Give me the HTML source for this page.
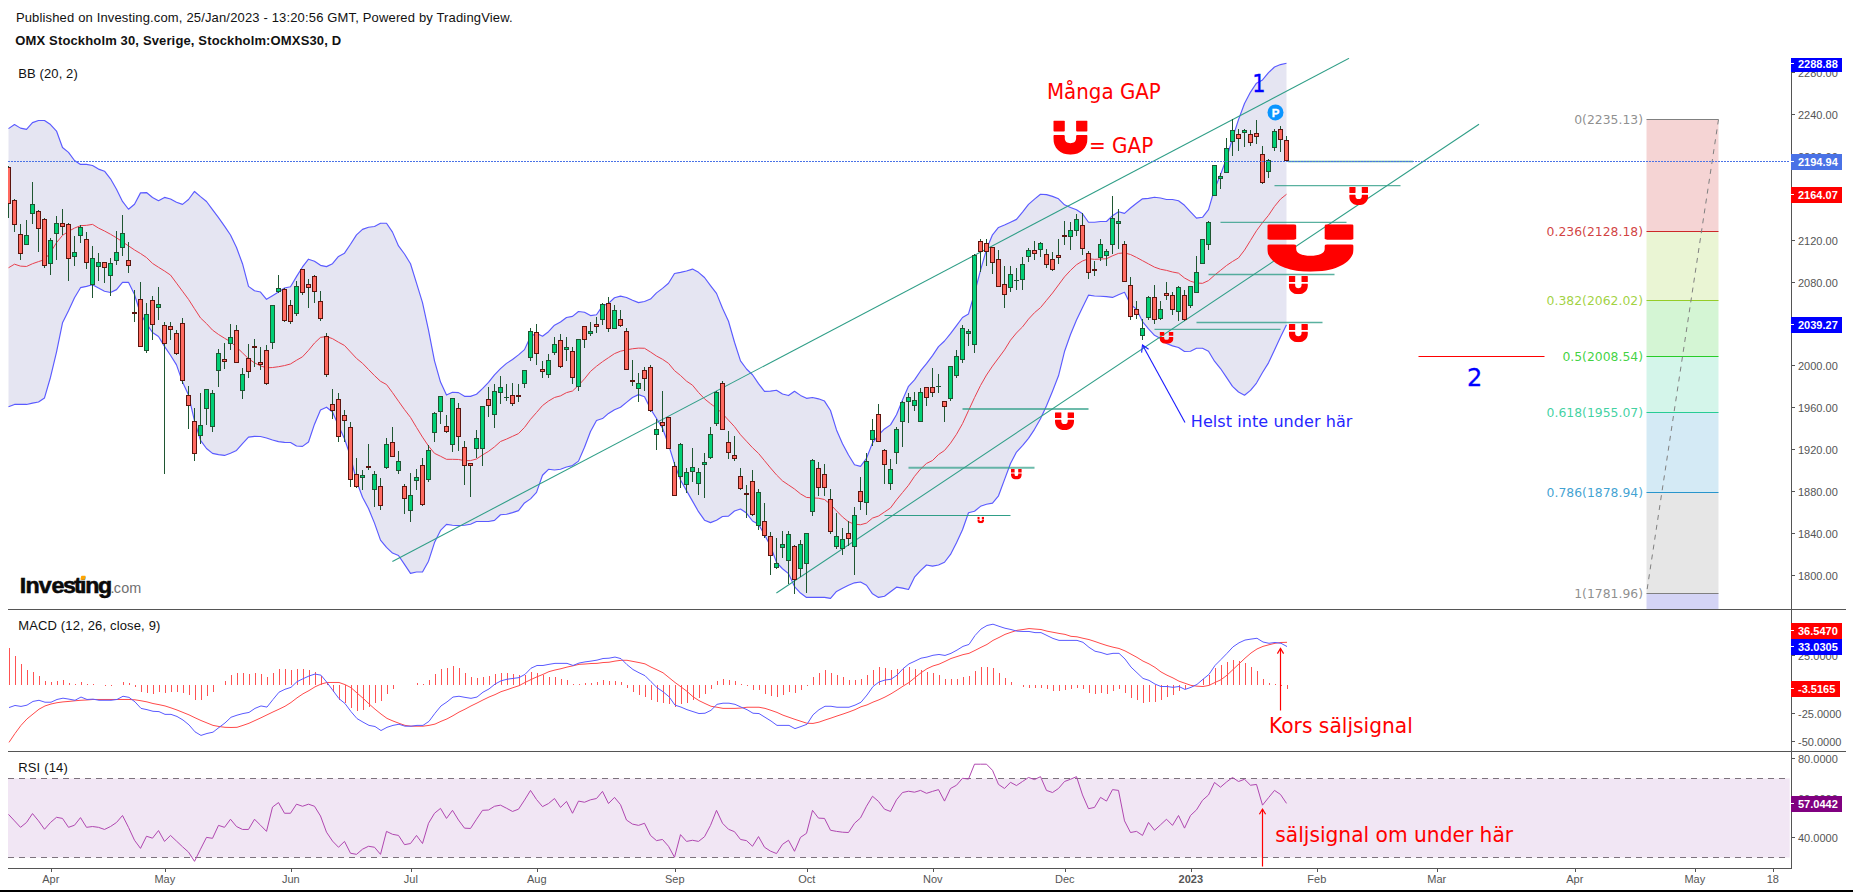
<!DOCTYPE html>
<html lang="sv"><head><meta charset="utf-8"><title>OMX Stockholm 30</title>
<style>html,body{margin:0;padding:0;background:#fff}body{width:1853px;height:892px;overflow:hidden}svg{display:block}text{white-space:pre}.a{font-family:'Liberation Sans',Arial,Helvetica,sans-serif;font-size:11px;fill:#555}.b{font-family:'Liberation Sans',Arial,Helvetica,sans-serif;font-size:11px;font-weight:bold;fill:#fff}.h{font-family:'Liberation Sans',Arial,Helvetica,sans-serif;font-size:13px;fill:#111}.v{font-family:'DejaVu Sans',Verdana,sans-serif}</style></head><body>
<svg width="1853" height="892" viewBox="0 0 1853 892">
<defs>
<clipPath id="cm"><rect x="8" y="58" width="1783" height="551"/></clipPath>
<clipPath id="cd"><rect x="8" y="610" width="1783" height="141"/></clipPath>
<clipPath id="cr"><rect x="8" y="752" width="1783" height="116"/></clipPath>
<symbol id="mg" viewBox="0 0 100 100" preserveAspectRatio="none"><rect x="0" y="0" width="33.5" height="32.5" rx="3" ry="3"/><rect x="66.5" y="0" width="33.5" height="32.5" rx="3" ry="3"/><path d="M3 42.5H30.5Q33.5 42.5 33.5 45.5V52C33.5 61 40 66.5 50 66.5C60 66.5 66.5 61 66.5 52V45.5Q66.5 42.5 69.5 42.5H97Q100 42.5 100 45.5V52C100 80 80 100 50 100C20 100 0 80 0 52V45.5Q0 42.5 3 42.5Z"/></symbol>
</defs>
<rect width="1853" height="892" fill="#fff"/>
<text class="h" x="15.9" y="22" textLength="496.7" lengthAdjust="spacing">Published on Investing.com, 25/Jan/2023 - 13:20:56 GMT, Powered by TradingView.</text>
<text class="h" x="15.3" y="45" font-weight="bold" fill="#000" textLength="325.8" lengthAdjust="spacing">OMX Stockholm 30, Sverige, Stockholm:OMXS30, D</text>
<text class="h" x="18.2" y="78" textLength="59.6" lengthAdjust="spacing">BB (20, 2)</text>
<g clip-path="url(#cm)">
<polygon points="8.5,128.62 14.5,124.57 20.5,128.13 26.5,129.43 32.5,122.63 38.5,120.52 44.5,120.52 50.5,124.57 56.5,131.05 62.5,147.56 68.5,152.42 74.5,160.51 80.5,164.4 86.5,164.4 92.5,165.53 98.5,169.09 104.5,171.2 110.5,178.81 116.5,189.33 122.5,201.47 128.5,209.24 134.5,204.23 140.5,192.89 146.5,192.57 152.5,197.43 158.5,200.66 164.5,197.43 170.5,199.04 176.5,202.28 182.5,204.39 188.5,199.53 194.5,191.44 200.5,196.62 206.5,201.47 212.5,209.57 218.5,217.66 224.5,226.12 230.5,235.02 236.5,247.56 242.5,263.71 248.5,286.38 254.5,290.75 260.5,292.05 266.5,299.33 272.5,295.77 278.5,292.05 284.5,288 290.5,286.7 296.5,276.66 302.5,266.95 308.5,259.18 314.5,261.28 320.5,265.33 326.5,266.63 332.5,263.71 338.5,256.43 344.5,253.19 350.5,244.28 356.5,234.89 362.5,229.39 368.5,227.29 374.5,226.48 380.5,223.24 386.5,223.24 392.5,232.14 398.5,245.9 404.5,254 410.5,263.71 416.5,283.14 422.5,302.57 428.5,330.09 434.5,360.85 440.5,382.09 446.5,395.05 452.5,392.29 458.5,392.62 464.5,396.34 470.5,396.34 476.5,394.24 482.5,388.57 488.5,382.42 494.5,374.81 500.5,368.66 506.5,363.38 512.5,359.49 518.5,354.88 524.5,349.62 530.5,336.57 536.5,333.33 542.5,336.24 548.5,331.71 554.5,325.23 560.5,322 566.5,317.46 572.5,316.33 578.5,311.47 584.5,312.28 590.5,315.57 596.5,314.76 602.5,305.86 608.5,303.43 614.5,297.76 620.5,296.14 626.5,297.44 632.5,300.19 638.5,302.62 644.5,301.48 650.5,299.06 656.5,292.9 662.5,288.37 668.5,283.19 674.5,273.48 680.5,272.34 686.5,271.05 692.5,269.1 698.5,272.34 704.5,277.52 710.5,285.62 716.5,293.39 722.5,308.28 728.5,321.24 734.5,342.28 740.5,360.9 746.5,369 752.5,374.76 758.5,383.66 764.5,391.36 770.5,391.19 776.5,390.23 782.5,393.94 788.5,395.56 794.5,391.27 800.5,395.4 806.5,398.33 812.5,397.52 818.5,398.82 824.5,401.08 830.5,410.47 836.5,429.9 842.5,443.66 848.5,455 854.5,464.71 860.5,466.33 866.5,458.24 872.5,442.85 878.5,435 884.5,428.93 890.5,424.88 896.5,414.76 902.5,400.09 908.5,386.33 914.5,379.85 920.5,370.95 926.5,363.66 932.5,355.57 938.5,346.66 944.5,341 950.5,333.71 956.5,325.62 962.5,317.52 968.5,313.96 974.5,293.04 980.5,270.38 986.5,249.33 992.5,234.76 998.5,227.47 1004.5,225.05 1010.5,222.29 1016.5,219.38 1022.5,212.09 1028.5,204.32 1034.5,199.14 1040.5,194.28 1046.5,194.61 1052.5,196.39 1058.5,198.82 1064.5,204.81 1070.5,207.56 1076.5,209.67 1082.5,213.71 1088.5,222.29 1094.5,222.29 1100.5,221.48 1106.5,221.48 1112.5,215.66 1118.5,211.77 1124.5,213.39 1130.5,208.05 1136.5,203.19 1142.5,198.82 1148.5,198.33 1154.5,197.2 1160.5,198.01 1166.5,199.47 1172.5,199.47 1178.5,200.76 1184.5,205.29 1190.5,211.77 1196.5,218.08 1202.5,217.27 1208.5,209.67 1214.5,189.23 1220.5,174.66 1226.5,158.47 1232.5,138.24 1238.5,119.62 1244.5,103.43 1250.5,92.09 1256.5,83.19 1262.5,79.95 1268.5,72.67 1274.5,67 1280.5,64.57 1286.5,63.28 1286.5,324.81 1280.5,336.95 1274.5,349.9 1268.5,362.85 1262.5,372.57 1256.5,383.09 1250.5,390.38 1244.5,395.23 1238.5,392 1232.5,386.33 1226.5,377.43 1220.5,368.52 1214.5,361.24 1208.5,351.2 1202.5,348.28 1196.5,348.28 1190.5,351.2 1184.5,351.52 1178.5,347.47 1172.5,345.86 1166.5,343.43 1160.5,338.57 1154.5,335.33 1148.5,328.86 1142.5,321.57 1136.5,309.23 1130.5,304.38 1124.5,292.23 1118.5,294.66 1112.5,297.42 1106.5,296.61 1100.5,296.28 1094.5,295.96 1088.5,295.15 1082.5,307.61 1076.5,319.95 1070.5,334.52 1064.5,351.52 1058.5,375.81 1052.5,391.19 1046.5,405.76 1040.5,418.8 1034.5,429.33 1028.5,438.33 1022.5,445.62 1016.5,452.09 1010.5,463.43 1004.5,479.62 998.5,495.81 992.5,503.09 986.5,504.23 980.5,506.33 974.5,511.19 968.5,512.81 962.5,529.81 956.5,542.76 950.5,554.47 944.5,562.25 938.5,565 932.5,566.13 926.5,565 920.5,570.66 914.5,577.14 908.5,589.44 902.5,588.15 896.5,587.18 890.5,591.71 884.5,596.24 878.5,597.38 872.5,593.85 866.5,585.27 860.5,582.03 854.5,582.84 848.5,585.27 842.5,588.19 836.5,591.42 830.5,598.39 824.5,597.42 818.5,597.42 812.5,597.42 806.5,597.42 800.5,593.04 794.5,586.57 788.5,573.62 782.5,568.76 776.5,562.28 770.5,546.09 764.5,534.76 758.5,524.24 752.5,521 746.5,513.09 740.5,509.05 734.5,511.06 728.5,516.14 722.5,516.47 716.5,520.19 710.5,522.62 704.5,520.19 698.5,511.66 692.5,501.14 686.5,490.62 680.5,480.09 674.5,463.9 668.5,444.47 662.5,428.28 656.5,418.57 650.5,408.86 644.5,396.71 638.5,394.61 632.5,397.52 626.5,402.38 620.5,407.24 614.5,409.67 608.5,413.39 602.5,418.57 596.5,420.51 590.5,431.52 584.5,447.28 578.5,461.12 572.5,465.57 566.5,466.94 560.5,469.21 554.5,470.02 548.5,469.29 542.5,475.28 536.5,492.38 530.5,498.86 524.5,502.9 518.5,510.67 512.5,512.62 506.5,514.24 500.5,514.72 494.5,520.39 488.5,521.52 482.5,521.52 476.5,521.52 470.5,524.27 464.5,525.25 458.5,525.57 452.5,525.25 446.5,524.44 440.5,530.43 434.5,542.57 428.5,561.19 422.5,572.03 416.5,572.03 410.5,573.33 404.5,564.43 398.5,555.52 392.5,553.09 386.5,547.43 380.5,540.14 374.5,523.14 368.5,508.57 362.5,497.24 356.5,480.95 350.5,456.57 344.5,438.76 338.5,425.81 332.5,412.05 326.5,407.19 320.5,410.1 314.5,424.19 308.5,442 302.5,446.37 296.5,446.04 290.5,442.48 284.5,442.32 278.5,441.67 272.5,440.05 266.5,437.95 260.5,436.49 254.5,436.33 248.5,437.14 242.5,443.62 236.5,450.42 230.5,453.33 224.5,455.43 218.5,454.62 212.5,453.33 206.5,448.47 200.5,440.38 194.5,420.95 188.5,395.05 182.5,382.09 176.5,364.91 170.5,355.28 164.5,346.38 158.5,336.57 152.5,332.52 146.5,323.62 140.5,313.9 134.5,294.47 128.5,282.33 122.5,282.33 116.5,289.62 110.5,292.53 104.5,291.24 98.5,288 92.5,284.76 86.5,286.38 80.5,287.67 74.5,297.71 68.5,310.66 62.5,322.81 56.5,352.04 50.5,377.24 44.5,397.96 38.5,402.01 32.5,403.14 26.5,404.44 20.5,404.44 14.5,404.44 8.5,406.7" fill="#e5e5f2"/>
<polyline points="8.5,267.76 14.5,264.2 20.5,266.14 26.5,266.47 32.5,263.71 38.5,261.61 44.5,259.67 50.5,252.38 56.5,242.67 62.5,235.38 68.5,231.33 74.5,228.09 80.5,225.67 86.5,225.34 92.5,224.37 98.5,228.09 104.5,231.01 110.5,234.25 116.5,237.81 122.5,241.86 128.5,245.9 134.5,249.95 140.5,253.51 146.5,257.56 152.5,263.39 158.5,267.27 164.5,271 170.5,275.05 176.5,283.14 182.5,291.24 188.5,299.33 194.5,308.72 200.5,317.95 206.5,323.62 212.5,330.09 218.5,334.46 224.5,338.19 230.5,341.75 236.5,347.09 242.5,352.86 248.5,358.76 254.5,362.81 260.5,365.9 266.5,367.85 272.5,367.52 278.5,366.71 284.5,365.58 290.5,363.96 296.5,360.24 302.5,356.81 308.5,350.33 314.5,343.04 320.5,337.38 326.5,336.57 332.5,338.67 338.5,342.23 344.5,345.47 350.5,351.95 356.5,358.42 362.5,363.28 368.5,369.47 374.5,375.62 380.5,381.28 386.5,384.52 392.5,392.62 398.5,401.2 404.5,409.62 410.5,417.39 416.5,427.43 422.5,437.14 428.5,446.04 434.5,453.33 440.5,456.24 446.5,459.32 452.5,459.32 458.5,459.48 464.5,460.62 470.5,460.62 476.5,459 482.5,454.95 488.5,451.39 494.5,446.85 500.5,441.51 506.5,439.08 512.5,436.33 518.5,433.58 524.5,427.43 530.5,419.33 536.5,412.53 542.5,405.57 548.5,401.04 554.5,397.47 560.5,395.86 566.5,392.62 572.5,391 578.5,385.33 584.5,378.86 590.5,371.42 596.5,366.24 602.5,361.71 608.5,357.66 614.5,353.62 620.5,351.19 626.5,349.89 632.5,348.76 638.5,348.11 644.5,348.27 650.5,352 656.5,356.04 662.5,359.28 668.5,363.33 674.5,370.62 680.5,375.47 686.5,381.14 692.5,385.19 698.5,392.47 704.5,398.82 710.5,403.68 716.5,408.05 722.5,413.71 728.5,420.19 734.5,426.66 740.5,434.76 746.5,441.24 752.5,447.71 758.5,453.38 764.5,460.66 770.5,467.95 776.5,474.91 782.5,480.9 788.5,484.95 794.5,489 800.5,493.85 806.5,497.42 812.5,497.9 818.5,498.22 824.5,499.52 830.5,504.38 836.5,510.85 842.5,516.95 848.5,521.81 854.5,524.24 860.5,524.72 866.5,523.1 872.5,518.08 878.5,516.04 884.5,512 890.5,507.95 896.5,499.85 902.5,492.57 908.5,485.28 914.5,476.38 920.5,469.09 926.5,463.43 932.5,460.51 938.5,454.52 944.5,450.47 950.5,443.19 956.5,434.28 962.5,423.66 968.5,410.62 974.5,397.66 980.5,385.52 986.5,375 992.5,366.09 998.5,358 1004.5,349.9 1010.5,340.19 1016.5,332.9 1022.5,326.91 1028.5,319.14 1034.5,312.67 1040.5,307.61 1046.5,300.33 1052.5,293.04 1058.5,284.95 1064.5,276.85 1070.5,270.38 1076.5,264.71 1082.5,260.99 1088.5,258.72 1094.5,259.37 1100.5,259.04 1106.5,258.72 1112.5,255.81 1118.5,253.38 1124.5,252.89 1130.5,254.51 1136.5,257.43 1142.5,260.66 1148.5,263.9 1154.5,267.14 1160.5,269.24 1166.5,270.38 1172.5,272 1178.5,273.13 1184.5,277.99 1190.5,281.23 1196.5,283.01 1202.5,283.33 1208.5,280.58 1214.5,275.23 1220.5,270.38 1226.5,265.52 1232.5,261.47 1238.5,257.91 1244.5,250.14 1250.5,240.43 1256.5,230.71 1262.5,222.62 1268.5,215.33 1274.5,206.43 1280.5,199.14 1286.5,194.28" fill="none" stroke="#e8404e" stroke-width="1" stroke-linejoin="round"/>
<polyline points="8.5,128.62 14.5,124.57 20.5,128.13 26.5,129.43 32.5,122.63 38.5,120.52 44.5,120.52 50.5,124.57 56.5,131.05 62.5,147.56 68.5,152.42 74.5,160.51 80.5,164.4 86.5,164.4 92.5,165.53 98.5,169.09 104.5,171.2 110.5,178.81 116.5,189.33 122.5,201.47 128.5,209.24 134.5,204.23 140.5,192.89 146.5,192.57 152.5,197.43 158.5,200.66 164.5,197.43 170.5,199.04 176.5,202.28 182.5,204.39 188.5,199.53 194.5,191.44 200.5,196.62 206.5,201.47 212.5,209.57 218.5,217.66 224.5,226.12 230.5,235.02 236.5,247.56 242.5,263.71 248.5,286.38 254.5,290.75 260.5,292.05 266.5,299.33 272.5,295.77 278.5,292.05 284.5,288 290.5,286.7 296.5,276.66 302.5,266.95 308.5,259.18 314.5,261.28 320.5,265.33 326.5,266.63 332.5,263.71 338.5,256.43 344.5,253.19 350.5,244.28 356.5,234.89 362.5,229.39 368.5,227.29 374.5,226.48 380.5,223.24 386.5,223.24 392.5,232.14 398.5,245.9 404.5,254 410.5,263.71 416.5,283.14 422.5,302.57 428.5,330.09 434.5,360.85 440.5,382.09 446.5,395.05 452.5,392.29 458.5,392.62 464.5,396.34 470.5,396.34 476.5,394.24 482.5,388.57 488.5,382.42 494.5,374.81 500.5,368.66 506.5,363.38 512.5,359.49 518.5,354.88 524.5,349.62 530.5,336.57 536.5,333.33 542.5,336.24 548.5,331.71 554.5,325.23 560.5,322 566.5,317.46 572.5,316.33 578.5,311.47 584.5,312.28 590.5,315.57 596.5,314.76 602.5,305.86 608.5,303.43 614.5,297.76 620.5,296.14 626.5,297.44 632.5,300.19 638.5,302.62 644.5,301.48 650.5,299.06 656.5,292.9 662.5,288.37 668.5,283.19 674.5,273.48 680.5,272.34 686.5,271.05 692.5,269.1 698.5,272.34 704.5,277.52 710.5,285.62 716.5,293.39 722.5,308.28 728.5,321.24 734.5,342.28 740.5,360.9 746.5,369 752.5,374.76 758.5,383.66 764.5,391.36 770.5,391.19 776.5,390.23 782.5,393.94 788.5,395.56 794.5,391.27 800.5,395.4 806.5,398.33 812.5,397.52 818.5,398.82 824.5,401.08 830.5,410.47 836.5,429.9 842.5,443.66 848.5,455 854.5,464.71 860.5,466.33 866.5,458.24 872.5,442.85 878.5,435 884.5,428.93 890.5,424.88 896.5,414.76 902.5,400.09 908.5,386.33 914.5,379.85 920.5,370.95 926.5,363.66 932.5,355.57 938.5,346.66 944.5,341 950.5,333.71 956.5,325.62 962.5,317.52 968.5,313.96 974.5,293.04 980.5,270.38 986.5,249.33 992.5,234.76 998.5,227.47 1004.5,225.05 1010.5,222.29 1016.5,219.38 1022.5,212.09 1028.5,204.32 1034.5,199.14 1040.5,194.28 1046.5,194.61 1052.5,196.39 1058.5,198.82 1064.5,204.81 1070.5,207.56 1076.5,209.67 1082.5,213.71 1088.5,222.29 1094.5,222.29 1100.5,221.48 1106.5,221.48 1112.5,215.66 1118.5,211.77 1124.5,213.39 1130.5,208.05 1136.5,203.19 1142.5,198.82 1148.5,198.33 1154.5,197.2 1160.5,198.01 1166.5,199.47 1172.5,199.47 1178.5,200.76 1184.5,205.29 1190.5,211.77 1196.5,218.08 1202.5,217.27 1208.5,209.67 1214.5,189.23 1220.5,174.66 1226.5,158.47 1232.5,138.24 1238.5,119.62 1244.5,103.43 1250.5,92.09 1256.5,83.19 1262.5,79.95 1268.5,72.67 1274.5,67 1280.5,64.57 1286.5,63.28" fill="none" stroke="#5a5aff" stroke-width="1.15" stroke-linejoin="round"/>
<polyline points="8.5,406.7 14.5,404.44 20.5,404.44 26.5,404.44 32.5,403.14 38.5,402.01 44.5,397.96 50.5,377.24 56.5,352.04 62.5,322.81 68.5,310.66 74.5,297.71 80.5,287.67 86.5,286.38 92.5,284.76 98.5,288 104.5,291.24 110.5,292.53 116.5,289.62 122.5,282.33 128.5,282.33 134.5,294.47 140.5,313.9 146.5,323.62 152.5,332.52 158.5,336.57 164.5,346.38 170.5,355.28 176.5,364.91 182.5,382.09 188.5,395.05 194.5,420.95 200.5,440.38 206.5,448.47 212.5,453.33 218.5,454.62 224.5,455.43 230.5,453.33 236.5,450.42 242.5,443.62 248.5,437.14 254.5,436.33 260.5,436.49 266.5,437.95 272.5,440.05 278.5,441.67 284.5,442.32 290.5,442.48 296.5,446.04 302.5,446.37 308.5,442 314.5,424.19 320.5,410.1 326.5,407.19 332.5,412.05 338.5,425.81 344.5,438.76 350.5,456.57 356.5,480.95 362.5,497.24 368.5,508.57 374.5,523.14 380.5,540.14 386.5,547.43 392.5,553.09 398.5,555.52 404.5,564.43 410.5,573.33 416.5,572.03 422.5,572.03 428.5,561.19 434.5,542.57 440.5,530.43 446.5,524.44 452.5,525.25 458.5,525.57 464.5,525.25 470.5,524.27 476.5,521.52 482.5,521.52 488.5,521.52 494.5,520.39 500.5,514.72 506.5,514.24 512.5,512.62 518.5,510.67 524.5,502.9 530.5,498.86 536.5,492.38 542.5,475.28 548.5,469.29 554.5,470.02 560.5,469.21 566.5,466.94 572.5,465.57 578.5,461.12 584.5,447.28 590.5,431.52 596.5,420.51 602.5,418.57 608.5,413.39 614.5,409.67 620.5,407.24 626.5,402.38 632.5,397.52 638.5,394.61 644.5,396.71 650.5,408.86 656.5,418.57 662.5,428.28 668.5,444.47 674.5,463.9 680.5,480.09 686.5,490.62 692.5,501.14 698.5,511.66 704.5,520.19 710.5,522.62 716.5,520.19 722.5,516.47 728.5,516.14 734.5,511.06 740.5,509.05 746.5,513.09 752.5,521 758.5,524.24 764.5,534.76 770.5,546.09 776.5,562.28 782.5,568.76 788.5,573.62 794.5,586.57 800.5,593.04 806.5,597.42 812.5,597.42 818.5,597.42 824.5,597.42 830.5,598.39 836.5,591.42 842.5,588.19 848.5,585.27 854.5,582.84 860.5,582.03 866.5,585.27 872.5,593.85 878.5,597.38 884.5,596.24 890.5,591.71 896.5,587.18 902.5,588.15 908.5,589.44 914.5,577.14 920.5,570.66 926.5,565 932.5,566.13 938.5,565 944.5,562.25 950.5,554.47 956.5,542.76 962.5,529.81 968.5,512.81 974.5,511.19 980.5,506.33 986.5,504.23 992.5,503.09 998.5,495.81 1004.5,479.62 1010.5,463.43 1016.5,452.09 1022.5,445.62 1028.5,438.33 1034.5,429.33 1040.5,418.8 1046.5,405.76 1052.5,391.19 1058.5,375.81 1064.5,351.52 1070.5,334.52 1076.5,319.95 1082.5,307.61 1088.5,295.15 1094.5,295.96 1100.5,296.28 1106.5,296.61 1112.5,297.42 1118.5,294.66 1124.5,292.23 1130.5,304.38 1136.5,309.23 1142.5,321.57 1148.5,328.86 1154.5,335.33 1160.5,338.57 1166.5,343.43 1172.5,345.86 1178.5,347.47 1184.5,351.52 1190.5,351.2 1196.5,348.28 1202.5,348.28 1208.5,351.2 1214.5,361.24 1220.5,368.52 1226.5,377.43 1232.5,386.33 1238.5,392 1244.5,395.23 1250.5,390.38 1256.5,383.09 1262.5,372.57 1268.5,362.85 1274.5,349.9 1280.5,336.95 1286.5,324.81" fill="none" stroke="#5a5aff" stroke-width="1.15" stroke-linejoin="round"/>
<line x1="392.4" y1="561.5" x2="1349" y2="58.3" stroke="#2f9e87" stroke-width="1.05" />
<line x1="776.4" y1="593" x2="1479" y2="124.2" stroke="#2f9e87" stroke-width="1.05" />
<line x1="1288" y1="161.5" x2="1413" y2="161.5" stroke="#2f9e87" stroke-width="1.3" stroke-opacity="0.8"/>
<line x1="1274.5" y1="185.6" x2="1400.5" y2="185.6" stroke="#2f9e87" stroke-width="1.3" stroke-opacity="0.8"/>
<line x1="1220.5" y1="222.4" x2="1346.5" y2="222.4" stroke="#2f9e87" stroke-width="1.3" stroke-opacity="0.8"/>
<line x1="1208.5" y1="274.5" x2="1334.5" y2="274.5" stroke="#2f9e87" stroke-width="1.3" stroke-opacity="0.8"/>
<line x1="1196.5" y1="322.5" x2="1322.5" y2="322.5" stroke="#2f9e87" stroke-width="1.3" stroke-opacity="0.8"/>
<line x1="1154.5" y1="329.4" x2="1280.5" y2="329.4" stroke="#2f9e87" stroke-width="1.3" stroke-opacity="0.8"/>
<line x1="962.5" y1="409" x2="1088.5" y2="409" stroke="#2f9e87" stroke-width="2" stroke-opacity="0.7"/>
<line x1="908.5" y1="467.7" x2="1034.5" y2="467.7" stroke="#2f9e87" stroke-width="2" stroke-opacity="0.7"/>
<line x1="884.5" y1="515.5" x2="1010.5" y2="515.5" stroke="#2f9e87" stroke-width="1" stroke-opacity="1"/>
<line x1="1418.5" y1="356.5" x2="1544.5" y2="356.5" stroke="#ff0000" stroke-width="1"/>
<g shape-rendering="crispEdges">
<path d="M8 166h1v52h-1zM14 199h1v33h-1zM20 224h1v36h-1zM26 220h1v25h-1zM32 182h1v42h-1zM38 210h1v42h-1zM44 218h1v50h-1zM50 238h1v37h-1zM56 216h1v44h-1zM62 209h1v26h-1zM68 223h1v58h-1zM74 236h1v30h-1zM80 225h1v18h-1zM86 232h1v37h-1zM92 246h1v52h-1zM98 253h1v28h-1zM104 262h1v21h-1zM110 258h1v38h-1zM116 231h1v34h-1zM122 215h1v41h-1zM128 242h1v31h-1zM134 290h1v32h-1zM140 282h1v65h-1zM146 303h1v50h-1zM152 296h1v44h-1zM158 287h1v33h-1zM164 322h1v152h-1zM170 322h1v18h-1zM176 330h1v25h-1zM182 318h1v66h-1zM188 386h1v43h-1zM194 408h1v53h-1zM200 393h1v51h-1zM206 389h1v36h-1zM212 390h1v42h-1zM218 349h1v38h-1zM224 343h1v26h-1zM230 324h1v26h-1zM236 325h1v38h-1zM242 368h1v31h-1zM248 344h1v34h-1zM254 339h1v28h-1zM260 347h1v23h-1zM266 345h1v40h-1zM272 305h1v44h-1zM278 275h1v18h-1zM284 288h1v34h-1zM290 300h1v24h-1zM296 281h1v35h-1zM302 269h1v26h-1zM308 279h1v29h-1zM314 275h1v28h-1zM320 291h1v30h-1zM326 333h1v44h-1zM332 389h1v30h-1zM338 393h1v49h-1zM344 410h1v32h-1zM350 422h1v65h-1zM356 458h1v30h-1zM362 470h1v20h-1zM368 444h1v26h-1zM374 471h1v36h-1zM380 478h1v32h-1zM386 438h1v31h-1zM392 427h1v30h-1zM398 451h1v23h-1zM404 484h1v30h-1zM410 473h1v49h-1zM416 469h1v21h-1zM422 458h1v48h-1zM428 445h1v37h-1zM434 412h1v30h-1zM440 396h1v28h-1zM446 415h1v18h-1zM452 398h1v54h-1zM458 403h1v48h-1zM464 441h1v44h-1zM470 463h1v34h-1zM476 430h1v28h-1zM482 406h1v60h-1zM488 387h1v30h-1zM494 384h1v44h-1zM500 376h1v28h-1zM506 384h1v17h-1zM512 383h1v23h-1zM518 384h1v18h-1zM524 370h1v18h-1zM530 328h1v33h-1zM536 324h1v41h-1zM542 361h1v17h-1zM548 354h1v24h-1zM554 337h1v18h-1zM560 334h1v34h-1zM566 337h1v24h-1zM572 347h1v37h-1zM578 339h1v52h-1zM584 326h1v22h-1zM590 322h1v14h-1zM596 317h1v16h-1zM602 303h1v22h-1zM608 297h1v35h-1zM614 305h1v24h-1zM620 310h1v17h-1zM626 328h1v42h-1zM632 360h1v26h-1zM638 373h1v29h-1zM644 367h1v24h-1zM650 365h1v47h-1zM656 419h1v31h-1zM662 391h1v41h-1zM668 417h1v32h-1zM674 462h1v34h-1zM680 443h1v45h-1zM686 468h1v25h-1zM692 448h1v34h-1zM698 468h1v27h-1zM704 453h1v45h-1zM710 427h1v32h-1zM716 391h1v35h-1zM722 381h1v49h-1zM728 431h1v28h-1zM734 436h1v25h-1zM740 468h1v22h-1zM746 485h1v33h-1zM752 470h1v46h-1zM758 489h1v41h-1zM764 503h1v35h-1zM770 532h1v43h-1zM776 538h1v31h-1zM782 531h1v27h-1zM788 531h1v53h-1zM794 545h1v49h-1zM800 540h1v37h-1zM806 533h1v60h-1zM812 459h1v57h-1zM818 462h1v34h-1zM824 464h1v32h-1zM830 489h1v45h-1zM836 513h1v36h-1zM842 528h1v27h-1zM848 521h1v25h-1zM854 507h1v68h-1zM860 477h1v33h-1zM866 453h1v62h-1zM872 419h1v27h-1zM878 404h1v38h-1zM884 449h1v35h-1zM890 459h1v31h-1zM896 427h1v37h-1zM902 401h1v46h-1zM908 393h1v30h-1zM914 392h1v19h-1zM920 388h1v34h-1zM926 387h1v19h-1zM932 368h1v29h-1zM938 374h1v19h-1zM944 401h1v21h-1zM950 366h1v35h-1zM956 350h1v28h-1zM962 325h1v38h-1zM968 329h1v17h-1zM974 254h1v99h-1zM980 239h1v33h-1zM986 239h1v27h-1zM992 247h1v27h-1zM998 250h1v37h-1zM1004 266h1v42h-1zM1010 266h1v26h-1zM1016 268h1v22h-1zM1022 257h1v33h-1zM1028 248h1v14h-1zM1034 241h1v19h-1zM1040 242h1v15h-1zM1046 249h1v19h-1zM1052 252h1v19h-1zM1058 239h1v25h-1zM1064 221h1v24h-1zM1070 222h1v28h-1zM1076 214h1v22h-1zM1082 213h1v42h-1zM1088 251h1v28h-1zM1094 261h1v15h-1zM1100 239h1v22h-1zM1106 249h1v17h-1zM1112 196h1v58h-1zM1118 209h1v40h-1zM1124 241h1v41h-1zM1130 277h1v43h-1zM1136 301h1v18h-1zM1142 319h1v21h-1zM1148 296h1v24h-1zM1154 285h1v39h-1zM1160 301h1v19h-1zM1166 282h1v18h-1zM1172 292h1v23h-1zM1178 286h1v35h-1zM1184 290h1v31h-1zM1190 286h1v22h-1zM1196 256h1v37h-1zM1202 239h1v25h-1zM1208 221h1v29h-1zM1214 165h1v31h-1zM1220 173h1v16h-1zM1226 138h1v35h-1zM1232 119h1v37h-1zM1238 129h1v22h-1zM1244 129h1v18h-1zM1250 130h1v16h-1zM1256 120h1v24h-1zM1262 146h1v38h-1zM1268 159h1v19h-1zM1274 129h1v22h-1zM1280 126h1v26h-1zM1286 136h1v25h-1z" fill="#1f5632"/>
<path d="M24 235h5v10h-5zM30 204h5v10h-5zM48 240h5v24h-5zM54 223h5v11h-5zM72 252h5v5h-5zM78 227h5v9h-5zM90 258h5v27h-5zM96 262h5v5h-5zM108 263h5v13h-5zM114 252h5v9h-5zM120 233h5v15h-5zM144 314h5v37h-5zM156 304h5v4h-5zM198 425h5v11h-5zM204 389h5v20h-5zM210 393h5v34h-5zM216 353h5v18h-5zM228 337h5v7h-5zM240 374h5v17h-5zM270 305h5v38h-5zM276 288h5v4h-5zM294 286h5v28h-5zM360 475h5v3h-5zM372 474h5v16h-5zM384 444h5v24h-5zM396 461h5v10h-5zM408 495h5v16h-5zM414 477h5v4h-5zM426 450h5v30h-5zM432 413h5v20h-5zM438 396h5v16h-5zM450 398h5v47h-5zM474 438h5v11h-5zM480 406h5v43h-5zM492 391h5v24h-5zM498 387h5v6h-5zM504 397h5v1h-5zM522 370h5v14h-5zM528 331h5v27h-5zM546 360h5v15h-5zM552 344h5v9h-5zM564 347h5v3h-5zM576 339h5v48h-5zM588 331h5v3h-5zM600 304h5v16h-5zM612 310h5v19h-5zM636 383h5v6h-5zM654 429h5v6h-5zM678 444h5v33h-5zM684 472h5v13h-5zM690 467h5v5h-5zM696 472h5v12h-5zM702 462h5v3h-5zM708 434h5v24h-5zM714 392h5v32h-5zM756 492h5v34h-5zM774 563h5v5h-5zM780 544h5v4h-5zM786 534h5v27h-5zM798 544h5v25h-5zM804 533h5v31h-5zM810 460h5v52h-5zM834 536h5v11h-5zM840 539h5v10h-5zM852 515h5v32h-5zM864 461h5v42h-5zM870 430h5v10h-5zM888 469h5v15h-5zM894 429h5v24h-5zM900 402h5v20h-5zM906 397h5v5h-5zM912 400h5v6h-5zM918 392h5v30h-5zM936 386h5v1h-5zM948 366h5v33h-5zM954 356h5v20h-5zM960 328h5v32h-5zM966 331h5v3h-5zM972 255h5v90h-5zM1008 274h5v14h-5zM1014 280h5v1h-5zM1020 264h5v16h-5zM1026 250h5v7h-5zM1038 243h5v7h-5zM1068 230h5v7h-5zM1074 219h5v12h-5zM1098 244h5v14h-5zM1104 251h5v5h-5zM1110 218h5v27h-5zM1116 221h5v3h-5zM1140 328h5v8h-5zM1146 297h5v21h-5zM1158 309h5v10h-5zM1176 287h5v25h-5zM1188 286h5v20h-5zM1194 272h5v21h-5zM1200 239h5v25h-5zM1206 222h5v23h-5zM1212 165h5v31h-5zM1218 176h5v3h-5zM1224 148h5v25h-5zM1230 130h5v12h-5zM1242 130h5v3h-5zM1266 160h5v12h-5zM1272 131h5v17h-5z" fill="#1f5632"/>
<path d="M25 236h3v8h-3zM31 205h3v8h-3zM49 241h3v22h-3zM55 224h3v9h-3zM73 253h3v3h-3zM79 228h3v7h-3zM91 259h3v25h-3zM97 263h3v3h-3zM109 264h3v11h-3zM115 253h3v7h-3zM121 234h3v13h-3zM145 315h3v35h-3zM157 305h3v2h-3zM199 426h3v9h-3zM205 390h3v18h-3zM211 394h3v32h-3zM217 354h3v16h-3zM229 338h3v5h-3zM241 375h3v15h-3zM271 306h3v36h-3zM277 289h3v2h-3zM295 287h3v26h-3zM361 476h3v1h-3zM373 475h3v14h-3zM385 445h3v22h-3zM397 462h3v8h-3zM409 496h3v14h-3zM415 478h3v2h-3zM427 451h3v28h-3zM433 414h3v18h-3zM439 397h3v14h-3zM451 399h3v45h-3zM475 439h3v9h-3zM481 407h3v41h-3zM493 392h3v22h-3zM499 388h3v4h-3zM523 371h3v12h-3zM529 332h3v25h-3zM547 361h3v13h-3zM553 345h3v7h-3zM565 348h3v1h-3zM577 340h3v46h-3zM589 332h3v1h-3zM601 305h3v14h-3zM613 311h3v17h-3zM637 384h3v4h-3zM655 430h3v4h-3zM679 445h3v31h-3zM685 473h3v11h-3zM691 468h3v3h-3zM697 473h3v10h-3zM703 463h3v1h-3zM709 435h3v22h-3zM715 393h3v30h-3zM757 493h3v32h-3zM775 564h3v3h-3zM781 545h3v2h-3zM787 535h3v25h-3zM799 545h3v23h-3zM805 534h3v29h-3zM811 461h3v50h-3zM835 537h3v9h-3zM841 540h3v8h-3zM853 516h3v30h-3zM865 462h3v40h-3zM871 431h3v8h-3zM889 470h3v13h-3zM895 430h3v22h-3zM901 403h3v18h-3zM907 398h3v3h-3zM913 401h3v4h-3zM919 393h3v28h-3zM949 367h3v31h-3zM955 357h3v18h-3zM961 329h3v30h-3zM967 332h3v1h-3zM973 256h3v88h-3zM1009 275h3v12h-3zM1021 265h3v14h-3zM1027 251h3v5h-3zM1039 244h3v5h-3zM1069 231h3v5h-3zM1075 220h3v10h-3zM1099 245h3v12h-3zM1105 252h3v3h-3zM1111 219h3v25h-3zM1117 222h3v1h-3zM1141 329h3v6h-3zM1147 298h3v19h-3zM1159 310h3v8h-3zM1177 288h3v23h-3zM1189 287h3v18h-3zM1195 273h3v19h-3zM1201 240h3v23h-3zM1207 223h3v21h-3zM1213 166h3v29h-3zM1219 177h3v1h-3zM1225 149h3v23h-3zM1231 131h3v10h-3zM1243 131h3v1h-3zM1267 161h3v10h-3zM1273 132h3v15h-3z" fill="#00cf76"/>
<path d="M6 167h5v37h-5zM12 200h5v25h-5zM18 234h5v20h-5zM36 211h5v18h-5zM42 219h5v47h-5zM60 223h5v4h-5zM66 224h5v35h-5zM84 239h5v24h-5zM102 262h5v6h-5zM126 260h5v6h-5zM132 312h5v2h-5zM138 299h5v48h-5zM150 300h5v25h-5zM162 325h5v19h-5zM168 326h5v4h-5zM174 333h5v21h-5zM180 323h5v58h-5zM186 395h5v11h-5zM192 421h5v33h-5zM222 359h5v3h-5zM234 330h5v33h-5zM246 358h5v14h-5zM252 346h5v2h-5zM258 362h5v3h-5zM264 350h5v34h-5zM282 289h5v32h-5zM288 305h5v17h-5zM300 269h5v24h-5zM306 284h5v4h-5zM312 276h5v16h-5zM318 301h5v18h-5zM324 336h5v39h-5zM330 404h5v7h-5zM336 399h5v38h-5zM342 415h5v6h-5zM348 427h5v53h-5zM354 474h5v13h-5zM366 466h5v2h-5zM378 486h5v20h-5zM390 442h5v15h-5zM402 486h5v13h-5zM420 465h5v40h-5zM444 426h5v6h-5zM456 408h5v29h-5zM462 447h5v19h-5zM468 463h5v3h-5zM486 399h5v7h-5zM510 395h5v9h-5zM516 395h5v2h-5zM534 332h5v22h-5zM540 369h5v3h-5zM558 340h5v27h-5zM570 351h5v27h-5zM582 326h5v14h-5zM594 324h5v3h-5zM606 303h5v26h-5zM618 319h5v7h-5zM624 331h5v39h-5zM630 380h5v2h-5zM642 370h5v9h-5zM648 367h5v44h-5zM660 422h5v4h-5zM666 417h5v32h-5zM672 466h5v30h-5zM720 383h5v47h-5zM726 442h5v11h-5zM732 455h5v4h-5zM738 476h5v13h-5zM744 493h5v2h-5zM750 481h5v34h-5zM762 521h5v15h-5zM768 536h5v20h-5zM792 546h5v34h-5zM816 468h5v20h-5zM822 474h5v14h-5zM828 499h5v33h-5zM846 533h5v6h-5zM858 491h5v11h-5zM876 414h5v28h-5zM882 450h5v15h-5zM924 387h5v11h-5zM930 387h5v6h-5zM942 401h5v6h-5zM978 241h5v11h-5zM984 243h5v9h-5zM990 247h5v16h-5zM996 259h5v28h-5zM1002 284h5v11h-5zM1032 250h5v4h-5zM1044 254h5v11h-5zM1050 259h5v11h-5zM1056 255h5v3h-5zM1062 235h5v2h-5zM1080 225h5v24h-5zM1086 253h5v20h-5zM1092 269h5v2h-5zM1122 244h5v38h-5zM1128 285h5v32h-5zM1134 309h5v6h-5zM1152 297h5v23h-5zM1164 293h5v3h-5zM1170 295h5v15h-5zM1182 295h5v25h-5zM1236 134h5v5h-5zM1248 134h5v9h-5zM1254 133h5v4h-5zM1260 154h5v29h-5zM1278 129h5v11h-5zM1284 140h5v21h-5z" fill="#5c140e"/>
<path d="M7 168h3v35h-3zM13 201h3v23h-3zM19 235h3v18h-3zM37 212h3v16h-3zM43 220h3v45h-3zM61 224h3v2h-3zM67 225h3v33h-3zM85 240h3v22h-3zM103 263h3v4h-3zM127 261h3v4h-3zM139 300h3v46h-3zM151 301h3v23h-3zM163 326h3v17h-3zM169 327h3v2h-3zM175 334h3v19h-3zM181 324h3v56h-3zM187 396h3v9h-3zM193 422h3v31h-3zM223 360h3v1h-3zM235 331h3v31h-3zM247 359h3v12h-3zM259 363h3v1h-3zM265 351h3v32h-3zM283 290h3v30h-3zM289 306h3v15h-3zM301 270h3v22h-3zM307 285h3v2h-3zM313 277h3v14h-3zM319 302h3v16h-3zM325 337h3v37h-3zM331 405h3v5h-3zM337 400h3v36h-3zM343 416h3v4h-3zM349 428h3v51h-3zM355 475h3v11h-3zM379 487h3v18h-3zM391 443h3v13h-3zM403 487h3v11h-3zM421 466h3v38h-3zM445 427h3v4h-3zM457 409h3v27h-3zM463 448h3v17h-3zM469 464h3v1h-3zM487 400h3v5h-3zM511 396h3v7h-3zM535 333h3v20h-3zM541 370h3v1h-3zM559 341h3v25h-3zM571 352h3v25h-3zM583 327h3v12h-3zM595 325h3v1h-3zM607 304h3v24h-3zM619 320h3v5h-3zM625 332h3v37h-3zM643 371h3v7h-3zM649 368h3v42h-3zM661 423h3v2h-3zM667 418h3v30h-3zM673 467h3v28h-3zM721 384h3v45h-3zM727 443h3v9h-3zM733 456h3v2h-3zM739 477h3v11h-3zM751 482h3v32h-3zM763 522h3v13h-3zM769 537h3v18h-3zM793 547h3v32h-3zM817 469h3v18h-3zM823 475h3v12h-3zM829 500h3v31h-3zM847 534h3v4h-3zM859 492h3v9h-3zM877 415h3v26h-3zM883 451h3v13h-3zM925 388h3v9h-3zM931 388h3v4h-3zM943 402h3v4h-3zM979 242h3v9h-3zM985 244h3v7h-3zM991 248h3v14h-3zM997 260h3v26h-3zM1003 285h3v9h-3zM1033 251h3v2h-3zM1045 255h3v9h-3zM1051 260h3v9h-3zM1057 256h3v1h-3zM1081 226h3v22h-3zM1087 254h3v18h-3zM1123 245h3v36h-3zM1129 286h3v30h-3zM1135 310h3v4h-3zM1153 298h3v21h-3zM1165 294h3v1h-3zM1171 296h3v13h-3zM1183 296h3v23h-3zM1237 135h3v3h-3zM1249 135h3v7h-3zM1255 134h3v2h-3zM1261 155h3v27h-3zM1279 130h3v9h-3zM1285 141h3v19h-3z" fill="#ff6a60"/>
</g>
<rect x="1646.5" y="119.5" width="72" height="112" fill="#cc2828" fill-opacity="0.2"/>
<rect x="1646.5" y="231.5" width="72" height="69" fill="#95cc28" fill-opacity="0.2"/>
<rect x="1646.5" y="300.5" width="72" height="56" fill="#28cc28" fill-opacity="0.2"/>
<rect x="1646.5" y="356.5" width="72" height="56" fill="#28cc95" fill-opacity="0.2"/>
<rect x="1646.5" y="412.5" width="72" height="80" fill="#2895cc" fill-opacity="0.2"/>
<rect x="1646.5" y="492.5" width="72" height="101" fill="#808080" fill-opacity="0.2"/>
<rect x="1646.5" y="593.5" width="72" height="16" fill="#2828cc" fill-opacity="0.2"/>
<line x1="1646.5" y1="119.5" x2="1718.5" y2="119.5" stroke="#808080" stroke-width="1"/>
<line x1="1646.5" y1="231.5" x2="1718.5" y2="231.5" stroke="#cc2828" stroke-width="1"/>
<line x1="1646.5" y1="300.5" x2="1718.5" y2="300.5" stroke="#95cc28" stroke-width="1"/>
<line x1="1646.5" y1="356.5" x2="1718.5" y2="356.5" stroke="#28cc28" stroke-width="1"/>
<line x1="1646.5" y1="412.5" x2="1718.5" y2="412.5" stroke="#28cc95" stroke-width="1"/>
<line x1="1646.5" y1="492.5" x2="1718.5" y2="492.5" stroke="#2895cc" stroke-width="1"/>
<line x1="1646.5" y1="593.5" x2="1718.5" y2="593.5" stroke="#808080" stroke-width="1"/>
<line x1="1718.5" y1="119.5" x2="1646.5" y2="593.5" stroke="#808080" stroke-width="1" stroke-dasharray="5 5"/>
<text class="v" x="1643" y="123.9" font-size="12.4" text-anchor="end" fill="#808080" fill-opacity="0.88">0(2235.13)</text>
<text class="v" x="1643" y="235.9" font-size="12.4" text-anchor="end" fill="#cc2828" fill-opacity="0.88">0.236(2128.18)</text>
<text class="v" x="1643" y="304.9" font-size="12.4" text-anchor="end" fill="#95cc28" fill-opacity="0.88">0.382(2062.02)</text>
<text class="v" x="1643" y="360.9" font-size="12.4" text-anchor="end" fill="#28cc28" fill-opacity="0.88">0.5(2008.54)</text>
<text class="v" x="1643" y="416.9" font-size="12.4" text-anchor="end" fill="#28cc95" fill-opacity="0.88">0.618(1955.07)</text>
<text class="v" x="1643" y="496.9" font-size="12.4" text-anchor="end" fill="#2895cc" fill-opacity="0.88">0.786(1878.94)</text>
<text class="v" x="1643" y="597.9" font-size="12.4" text-anchor="end" fill="#808080" fill-opacity="0.88">1(1781.96)</text>
<use href="#mg" x="1053.3" y="120.5" width="34.3" height="34.2" fill="#ff0000"/>
<use href="#mg" x="1349.2" y="187" width="18.9" height="18.1" fill="#ff0000"/>
<use href="#mg" x="1267.3" y="224.2" width="86.3" height="47.5" fill="#ff0000"/>
<use href="#mg" x="1288.8" y="276" width="19.1" height="18.3" fill="#ff0000"/>
<use href="#mg" x="1288.8" y="324" width="19.1" height="18.3" fill="#ff0000"/>
<use href="#mg" x="1159.6" y="332.1" width="13.9" height="11.6" fill="#ff0000"/>
<use href="#mg" x="1055" y="412.2" width="19" height="17.8" fill="#ff0000"/>
<use href="#mg" x="1011" y="469" width="10.8" height="10.6" fill="#ff0000"/>
<use href="#mg" x="977.3" y="516.8" width="6.8" height="6.5" fill="#ff0000"/>
<text class="v" x="1047" y="98.7" font-size="21" fill="#ff0000" textLength="113.8" lengthAdjust="spacingAndGlyphs">Många GAP</text>
<text class="v" x="1089" y="152.7" font-size="21" fill="#ff0000" textLength="64.2" lengthAdjust="spacingAndGlyphs">= GAP</text>
<g transform="translate(1259 0) scale(0.87 1)"><text class="v" x="0" y="92" text-anchor="middle" font-size="24" fill="#0000ff" stroke="#0000ff" stroke-width="0.3">1</text></g>
<text class="v" x="1467" y="386" font-size="24" fill="#0000ff" stroke="#0000ff" stroke-width="0.3">2</text>
<text class="v" x="1190.8" y="426.8" font-size="16" fill="#2626ff" textLength="161.6" lengthAdjust="spacing">Helst inte under här</text>
<g stroke="#1a1aff" stroke-width="1.1" fill="none"><line x1="1185" y1="422.6" x2="1142.5" y2="345"/><polyline points="1141.6,352.6 1142.5,345 1148.6,349.3"/></g>
<circle cx="1275.5" cy="112.4" r="8" fill="#0a95ff"/>
<text x="1275.5" y="116.6" text-anchor="middle" font-family="'Liberation Sans',Arial,Helvetica,sans-serif" font-weight="bold" font-size="11.5" fill="#fff" stroke="#fff" stroke-width="0.35">P</text>
<line x1="8" y1="161.5" x2="1789" y2="161.5" stroke="#4a72e6" stroke-width="1" stroke-dasharray="2 1" shape-rendering="crispEdges"/>
</g>
<g><g transform="scale(1.08,1)"><text x="18.23 23.69 35.78 47.58 58.29 68.49 74.16 78.97 90.72" y="592.8" font-family="'Liberation Sans',Arial,Helvetica,sans-serif" font-weight="bold" font-size="21.5" fill="#0a0a0a" stroke="#0a0a0a" stroke-width="0.55">Investing</text></g><g transform="scale(0.93,1)"><text x="118.92 122.41 130.26 139.11" y="592.9" font-family="'Liberation Sans',Arial,Helvetica,sans-serif" font-size="15.5" fill="#707070">.com</text></g><path d="M81.9 575.8h3.2q0.6 0 0.5 0.6l-0.7 2.9q-0.1 0.5 -0.7 0.5h-3.2q-0.6 0 -0.5 -0.6l0.7 -2.9q0.1 -0.5 0.7 -0.5z" fill="#ffa400"/></g>
<text class="h" x="18.2" y="630" textLength="142.2" lengthAdjust="spacing">MACD (12, 26, close, 9)</text>
<g clip-path="url(#cd)">
<path d="M9 648h1v37h-1zM15 656h1v29h-1zM21 664h1v21h-1zM27 670h1v15h-1zM33 672h1v13h-1zM39 676h1v9h-1zM45 681h1v4h-1zM51 682h1v3h-1zM57 681h1v4h-1zM63 680h1v5h-1zM69 683h1v2h-1zM75 684h1v1h-1zM81 682h1v3h-1zM87 684h1v1h-1zM93 684h1v1h-1zM105 685h1v1h-1zM111 685h1v1h-1zM123 682h1v3h-1zM129 683h1v2h-1zM135 685h1v2h-1zM141 685h1v7h-1zM147 685h1v8h-1zM153 685h1v9h-1zM159 685h1v7h-1zM165 685h1v8h-1zM171 685h1v7h-1zM177 685h1v7h-1zM183 685h1v8h-1zM189 685h1v10h-1zM195 685h1v15h-1zM201 685h1v15h-1zM207 685h1v11h-1zM213 685h1v7h-1zM225 681h1v4h-1zM231 675h1v10h-1zM237 673h1v12h-1zM243 673h1v12h-1zM249 674h1v11h-1zM255 673h1v12h-1zM261 674h1v11h-1zM267 677h1v8h-1zM273 673h1v12h-1zM279 669h1v16h-1zM285 669h1v16h-1zM291 670h1v15h-1zM297 669h1v16h-1zM303 669h1v16h-1zM309 670h1v15h-1zM315 672h1v13h-1zM321 676h1v9h-1zM327 682h1v3h-1zM333 685h1v7h-1zM339 685h1v15h-1zM345 685h1v18h-1zM351 685h1v23h-1zM357 685h1v26h-1zM363 685h1v25h-1zM369 685h1v22h-1zM375 685h1v18h-1zM381 685h1v16h-1zM387 685h1v9h-1zM393 685h1v4h-1zM417 683h1v2h-1zM423 684h1v1h-1zM429 680h1v5h-1zM435 674h1v11h-1zM441 669h1v16h-1zM447 668h1v17h-1zM453 666h1v19h-1zM459 668h1v17h-1zM465 673h1v12h-1zM471 677h1v8h-1zM477 678h1v7h-1zM483 677h1v8h-1zM489 676h1v9h-1zM495 674h1v11h-1zM501 673h1v12h-1zM507 673h1v12h-1zM513 674h1v11h-1zM519 675h1v10h-1zM525 675h1v10h-1zM531 672h1v13h-1zM537 673h1v12h-1zM543 675h1v10h-1zM549 677h1v8h-1zM555 677h1v8h-1zM561 679h1v6h-1zM567 680h1v5h-1zM573 684h1v1h-1zM579 684h1v1h-1zM585 683h1v2h-1zM591 683h1v2h-1zM597 682h1v3h-1zM603 680h1v5h-1zM609 681h1v4h-1zM615 681h1v4h-1zM621 682h1v3h-1zM627 685h1v3h-1zM633 685h1v7h-1zM639 685h1v10h-1zM645 685h1v12h-1zM651 685h1v15h-1zM657 685h1v17h-1zM663 685h1v18h-1zM669 685h1v19h-1zM675 685h1v22h-1zM681 685h1v19h-1zM687 685h1v18h-1zM693 685h1v15h-1zM699 685h1v13h-1zM705 685h1v9h-1zM711 685h1v4h-1zM717 681h1v4h-1zM723 679h1v6h-1zM729 680h1v5h-1zM735 681h1v4h-1zM741 684h1v1h-1zM747 685h1v1h-1zM753 685h1v5h-1zM759 685h1v5h-1zM765 685h1v9h-1zM771 685h1v11h-1zM777 685h1v12h-1zM783 685h1v10h-1zM789 685h1v7h-1zM795 685h1v8h-1zM801 685h1v5h-1zM807 685h1v1h-1zM813 677h1v8h-1zM819 673h1v12h-1zM825 670h1v15h-1zM831 673h1v12h-1zM837 675h1v10h-1zM843 677h1v8h-1zM849 680h1v5h-1zM855 680h1v5h-1zM861 679h1v6h-1zM867 675h1v10h-1zM873 670h1v15h-1zM879 667h1v18h-1zM885 668h1v17h-1zM891 670h1v15h-1zM897 669h1v16h-1zM903 668h1v17h-1zM909 667h1v18h-1zM915 669h1v16h-1zM921 670h1v15h-1zM927 672h1v13h-1zM933 673h1v12h-1zM939 675h1v10h-1zM945 679h1v6h-1zM951 679h1v6h-1zM957 679h1v6h-1zM963 677h1v8h-1zM969 676h1v9h-1zM975 671h1v14h-1zM981 667h1v18h-1zM987 667h1v18h-1zM993 668h1v17h-1zM999 673h1v12h-1zM1005 678h1v7h-1zM1011 682h1v3h-1zM1023 685h1v2h-1zM1029 685h1v3h-1zM1035 685h1v3h-1zM1041 685h1v3h-1zM1047 685h1v4h-1zM1053 685h1v6h-1zM1059 685h1v6h-1zM1065 685h1v5h-1zM1071 685h1v4h-1zM1077 685h1v3h-1zM1083 685h1v4h-1zM1089 685h1v8h-1zM1095 685h1v9h-1zM1101 685h1v8h-1zM1107 685h1v9h-1zM1113 685h1v6h-1zM1119 685h1v4h-1zM1125 685h1v8h-1zM1131 685h1v13h-1zM1137 685h1v15h-1zM1143 685h1v18h-1zM1149 685h1v17h-1zM1155 685h1v17h-1zM1161 685h1v15h-1zM1167 685h1v12h-1zM1173 685h1v10h-1zM1179 685h1v6h-1zM1185 685h1v4h-1zM1191 685h1v1h-1zM1203 679h1v6h-1zM1209 675h1v10h-1zM1215 668h1v17h-1zM1221 665h1v20h-1zM1227 662h1v23h-1zM1233 660h1v25h-1zM1239 661h1v24h-1zM1245 663h1v22h-1zM1251 667h1v18h-1zM1257 671h1v14h-1zM1263 679h1v6h-1zM1269 683h1v2h-1zM1275 684h1v1h-1zM1281 685h1v1h-1zM1287 685h1v4h-1z" fill="#ff5252" shape-rendering="crispEdges"/>
<polyline points="9,742.38 15,733.47 21,725.38 27,718.9 33,714.04 39,709.19 45,705.95 51,704.01 57,702.71 63,701.9 69,701.42 75,700.77 81,700.28 87,699.96 93,699.47 99,699.47 105,699.47 111,699.47 117,699.47 123,699.47 129,699.47 135,699.8 141,700.77 147,701.9 153,703.52 159,704.65 165,705.95 171,707.89 177,710 183,712.43 189,714.85 195,717.77 201,720.52 207,722.95 213,725.38 219,726.51 225,727.32 231,727.48 237,727.32 243,725.38 249,723.27 255,720.52 261,717.77 267,714.85 273,711.94 279,709.19 285,706.27 291,702.47 297,697.85 303,693.81 309,690.57 315,686.85 321,684.09 327,682.47 333,682.47 339,682.47 345,684.58 351,687.65 357,693 363,698.18 369,703.84 375,709.19 381,714.04 387,718.42 393,721.01 399,723.27 405,725.38 411,726.19 417,726.19 423,726.19 429,725.38 435,724.08 441,721.33 447,718.9 453,715.66 459,712.1 465,709.19 471,705.95 477,703.04 483,699.96 489,697.04 495,694.62 501,691.7 507,689.76 513,687.65 519,685.71 525,682.47 531,679.56 537,676.81 543,674.38 549,671.63 555,670.01 561,668.71 567,667.09 573,665.8 579,664.34 585,664.02 591,663.53 597,663.37 603,662.56 609,662.24 615,661.1 621,660.29 627,660.29 633,661.43 639,662.56 645,663.86 651,667.09 657,669.85 663,672.76 669,677.62 675,682.47 681,686.85 687,691.38 693,696.72 699,700.61 705,703.52 711,706.27 717,707.24 723,708.38 729,708.38 735,708.38 741,708.05 747,707.24 753,707.24 759,707.24 765,708.38 771,710.32 777,712.43 783,715.18 789,717.28 795,719.39 801,721.33 807,723.27 813,723.43 819,722.14 825,720.03 831,718.09 837,715.99 843,714.04 849,711.94 855,709.67 861,706.76 867,704.9 873,702.14 879,699.8 885,697.04 891,693.81 897,690.08 903,686.2 909,682.47 915,677.62 921,672.76 927,668.71 933,665.96 939,664.18 945,661.43 951,658.51 957,656.57 963,654.63 969,653.33 975,650.42 981,647.34 987,644.43 993,640.38 999,637.47 1005,634.39 1011,632.28 1017,630.34 1023,629.53 1029,628.56 1035,629.05 1041,629.53 1047,631.15 1053,632.28 1059,633.42 1065,634.39 1071,636.33 1077,636.82 1083,638.28 1089,639.57 1095,641.51 1101,643.62 1107,645.56 1113,647.18 1119,648.47 1125,650.9 1131,654.14 1137,657.38 1143,661.1 1149,663.86 1155,667.42 1161,671.95 1167,675.19 1173,677.94 1179,681.18 1185,683.28 1191,685.39 1197,686.2 1203,686.52 1209,685.39 1215,682.47 1221,679.72 1227,675.19 1233,669.52 1239,663.86 1245,658.19 1251,653.01 1257,648.96 1263,646.37 1269,644.75 1275,643.29 1281,642.48 1287,642.32" fill="none" stroke="#ff4a4a" stroke-width="1" stroke-linejoin="round"/>
<polyline points="9,707.57 15,705.46 21,706.43 27,705.14 33,701.42 39,700.28 45,702.23 51,702.23 57,699.47 63,698.18 69,699.15 75,700.28 81,697.04 87,699.47 93,699.15 99,700.28 105,700.28 111,700.28 117,699.47 123,696.24 129,697.37 135,701.9 141,708.38 147,709.67 153,711.29 159,711.62 165,714.37 171,714.37 177,716.47 183,720.03 189,724.89 195,731.85 201,735.42 207,733.47 213,732.18 219,727.48 225,722.95 231,717.28 237,715.18 243,713.56 249,712.43 255,708.38 261,705.95 267,707.08 273,699.47 279,692.19 285,689.27 291,687.33 297,681.66 303,678.75 309,676 315,674.06 321,675.19 327,682.47 333,690.57 339,698.66 345,703.52 351,711.62 357,718.58 363,722.14 369,725.38 375,726.51 381,730.56 387,727.32 393,725.38 399,724.24 405,726.19 411,726.19 417,725.38 423,725.38 429,721.33 435,713.23 441,705.95 447,701.9 453,697.04 459,696.24 465,697.37 471,698.34 477,697.04 483,692.19 489,688.95 495,684.09 501,680.85 507,679.24 513,678.43 519,677.62 525,674.38 531,668.23 537,665.47 543,665.47 549,664.34 555,663.37 561,663.37 567,663.37 573,665.47 579,663.05 585,661.91 591,661.1 597,660.13 603,658.51 609,658.19 615,657.06 621,658.67 627,664.66 633,669.52 639,672.76 645,675.67 651,681.66 657,687.65 663,691.7 669,696.72 675,705.14 681,707.08 687,709.67 693,711.62 699,713.56 705,713.23 711,710.32 717,704.33 723,703.2 729,703.2 735,704.33 741,707.08 747,709.67 753,713.23 759,713.56 765,717.28 771,721.01 777,725.38 783,725.38 789,725.38 795,728.62 801,726.51 807,724.24 813,714.85 819,709.67 825,706.27 831,706.27 837,707.24 843,707.24 849,707.24 855,705.14 861,702.23 867,695.02 873,686.52 879,681.99 885,680.05 891,679.24 897,675.19 903,668.71 909,663.86 915,661.1 921,658.19 927,657.06 933,655.27 939,654.47 945,655.44 951,653.33 957,650.09 963,646.37 969,644.43 975,635.52 981,629.05 987,625.49 993,624.19 999,626.29 1005,628.24 1011,629.53 1017,631.15 1023,631.48 1029,631.48 1035,632.61 1041,632.61 1047,635.52 1053,638.44 1059,640.38 1065,640.38 1071,640.38 1077,640.38 1083,642.32 1089,647.34 1095,651.23 1101,652.52 1107,654.47 1113,653.33 1119,653.33 1125,659 1131,667.09 1137,672.76 1143,678.43 1149,680.37 1155,684.09 1161,686.52 1167,686.52 1173,687.33 1179,686.52 1185,689.44 1191,687.33 1197,684.42 1203,679.24 1209,674.38 1215,665.47 1221,659.48 1227,653.33 1233,646.86 1239,642.81 1245,640.06 1251,639.08 1257,638.28 1263,642 1269,643.29 1275,642.48 1281,643.29 1287,646.53" fill="none" stroke="#5a5aff" stroke-width="1" stroke-linejoin="round"/>
<g stroke="#ff0000" stroke-width="1.2" fill="none"><line x1="1280.5" y1="710.5" x2="1280.5" y2="648.5"/><polyline points="1277.4,653.6 1280.5,648.5 1283.6,653.6"/></g>
<text class="v" x="1269" y="732.7" font-size="21" fill="#ff0000" textLength="143.8" lengthAdjust="spacingAndGlyphs">Kors säljsignal</text>
</g>
<text class="h" x="18.2" y="772" textLength="49.6" lengthAdjust="spacing">RSI (14)</text>
<g clip-path="url(#cr)">
<rect x="8" y="778.5" width="1781.7" height="79" fill="#f1e6f4"/>
<g stroke="#7d737d" stroke-width="1" stroke-dasharray="6 5" shape-rendering="crispEdges"><line x1="8" y1="778.5" x2="1789.7" y2="778.5"/><line x1="8" y1="857.5" x2="1789.7" y2="857.5"/></g>
<polyline points="8.5,814.38 14.5,820.85 20.5,827.33 26.5,822.47 32.5,813.57 38.5,820.85 44.5,829.27 50.5,822.47 56.5,817.29 62.5,818.43 68.5,827.33 74.5,825.23 80.5,817.62 86.5,827.33 92.5,826.52 98.5,827.33 104.5,829.44 110.5,826.52 116.5,822.47 122.5,815.51 128.5,827.33 134.5,840.28 140.5,848.38 146.5,836.24 152.5,838.18 158.5,830.57 164.5,841.42 170.5,835.43 176.5,841.09 182.5,846.76 188.5,852.1 194.5,861.33 200.5,849.19 206.5,837.37 212.5,838.34 218.5,825.39 224.5,827.33 230.5,819.24 236.5,826.52 242.5,829.44 248.5,829.44 254.5,819.24 260.5,825.23 266.5,831.38 272.5,807.09 278.5,802.56 284.5,813.25 290.5,813.25 296.5,804.18 302.5,806.28 308.5,804.18 314.5,806.28 320.5,816 326.5,832.19 332.5,841.09 338.5,847.24 344.5,841.42 350.5,853.23 356.5,854.37 362.5,849.19 368.5,846.27 374.5,847.24 380.5,854.37 386.5,831.38 392.5,834.29 398.5,835.43 404.5,844.65 410.5,843.52 416.5,835.43 422.5,843.52 428.5,823.28 434.5,813.25 440.5,808.39 446.5,818.43 452.5,810.33 458.5,820.05 464.5,828.14 470.5,828.46 476.5,819.24 482.5,810.33 488.5,810.01 494.5,806.28 500.5,805.15 506.5,808.23 512.5,811.46 518.5,809.2 524.5,800.13 530.5,790.42 536.5,799.48 542.5,806.61 548.5,803.53 554.5,798.51 560.5,807.42 566.5,801.43 572.5,813.25 578.5,801.1 584.5,802.24 590.5,799.81 596.5,798.51 602.5,791.39 608.5,803.53 614.5,797.38 620.5,804.66 626.5,820.05 632.5,824.09 638.5,825.39 644.5,823.28 650.5,835.43 656.5,840.61 662.5,839.47 668.5,846.27 674.5,857.28 680.5,834.62 686.5,841.42 692.5,840.28 698.5,841.42 704.5,836.72 710.5,825.39 716.5,810.33 722.5,823.28 728.5,829.27 734.5,831.7 740.5,839.47 746.5,840.61 752.5,846.27 758.5,836.56 764.5,847.24 770.5,851.13 776.5,853.56 782.5,844.33 788.5,840.28 794.5,851.29 800.5,837.37 806.5,833.32 812.5,810.33 818.5,818.1 824.5,818.43 830.5,830.25 836.5,831.38 842.5,832.19 848.5,832.51 854.5,823.28 860.5,817.94 866.5,806.2 872.5,796.25 878.5,801.43 884.5,809.2 890.5,811.46 896.5,799.81 902.5,792.52 908.5,791.23 914.5,792.2 920.5,790.42 926.5,793.33 932.5,791.39 938.5,789.61 944.5,801.1 950.5,788.47 956.5,785.24 962.5,778.28 968.5,779.08 974.5,764.19 980.5,764.19 986.5,764.19 992.5,770.34 998.5,784.43 1004.5,788.47 1010.5,782.32 1016.5,785.56 1022.5,781.51 1028.5,777.47 1034.5,779.57 1040.5,776.66 1046.5,790.42 1052.5,792.52 1058.5,788.47 1064.5,781.51 1070.5,779.25 1076.5,776.66 1082.5,794.95 1088.5,808.71 1094.5,807.42 1100.5,797.38 1106.5,801.1 1112.5,789.61 1118.5,790.42 1124.5,820.85 1130.5,832.51 1136.5,831.38 1142.5,835.43 1148.5,822.47 1154.5,830.25 1160.5,824.82 1166.5,819.24 1172.5,825.39 1178.5,815.51 1184.5,828.14 1190.5,815.51 1196.5,809.85 1202.5,800.29 1208.5,794.95 1214.5,782.48 1220.5,787.18 1226.5,782 1232.5,777.47 1238.5,781.51 1244.5,779.25 1250.5,785.24 1256.5,784.43 1262.5,805.15 1268.5,797.7 1274.5,790.42 1280.5,794.47 1286.5,803.37" fill="none" stroke="#b047b0" stroke-width="1" stroke-linejoin="round"/>
<g stroke="#ff0000" stroke-width="1.2" fill="none"><line x1="1262.5" y1="866.5" x2="1262.5" y2="809.2"/><polyline points="1259.4,814.3 1262.5,809.2 1265.6,814.3"/></g>
<text class="v" x="1275.3" y="841.6" font-size="21" fill="#ff0000" textLength="237.8" lengthAdjust="spacingAndGlyphs">säljsignal om under här</text>
</g>
<g shape-rendering="crispEdges" fill="#555555">
<rect x="8" y="609" width="1838" height="1"/>
<rect x="8" y="751" width="1838" height="1"/>
<rect x="8" y="868" width="1784" height="1"/>
<rect x="1791" y="58" width="1" height="811"/>
<rect x="1792" y="72" width="3" height="1"/>
<rect x="1792" y="114" width="3" height="1"/>
<rect x="1792" y="156" width="3" height="1"/>
<rect x="1792" y="198" width="3" height="1"/>
<rect x="1792" y="240" width="3" height="1"/>
<rect x="1792" y="282" width="3" height="1"/>
<rect x="1792" y="324" width="3" height="1"/>
<rect x="1792" y="365" width="3" height="1"/>
<rect x="1792" y="407" width="3" height="1"/>
<rect x="1792" y="449" width="3" height="1"/>
<rect x="1792" y="491" width="3" height="1"/>
<rect x="1792" y="533" width="3" height="1"/>
<rect x="1792" y="575" width="3" height="1"/>
<rect x="1792" y="655" width="3" height="1"/>
<rect x="1792" y="713" width="3" height="1"/>
<rect x="1792" y="741" width="3" height="1"/>
<rect x="1792" y="758" width="3" height="1"/>
<rect x="1792" y="798" width="3" height="1"/>
<rect x="1792" y="837" width="3" height="1"/>
<rect x="51" y="869" width="1" height="3"/>
<rect x="165" y="869" width="1" height="3"/>
<rect x="291" y="869" width="1" height="3"/>
<rect x="411" y="869" width="1" height="3"/>
<rect x="537" y="869" width="1" height="3"/>
<rect x="675" y="869" width="1" height="3"/>
<rect x="807" y="869" width="1" height="3"/>
<rect x="933" y="869" width="1" height="3"/>
<rect x="1065" y="869" width="1" height="3"/>
<rect x="1191" y="869" width="1" height="3"/>
<rect x="1317" y="869" width="1" height="3"/>
<rect x="1437" y="869" width="1" height="3"/>
<rect x="1575" y="869" width="1" height="3"/>
<rect x="1695" y="869" width="1" height="3"/>
<rect x="1773" y="869" width="1" height="3"/>
</g>
<text class="a" x="1798" y="77">2280.00</text>
<text class="a" x="1798" y="119">2240.00</text>
<text class="a" x="1798" y="161">2200.00</text>
<text class="a" x="1798" y="203">2160.00</text>
<text class="a" x="1798" y="245">2120.00</text>
<text class="a" x="1798" y="287">2080.00</text>
<text class="a" x="1798" y="329">2040.00</text>
<text class="a" x="1798" y="370">2000.00</text>
<text class="a" x="1798" y="412">1960.00</text>
<text class="a" x="1798" y="454">1920.00</text>
<text class="a" x="1798" y="496">1880.00</text>
<text class="a" x="1798" y="538">1840.00</text>
<text class="a" x="1798" y="580">1800.00</text>
<text class="a" x="1798" y="660">25.0000</text>
<text class="a" x="1798" y="718">-25.0000</text>
<text class="a" x="1798" y="746">-50.0000</text>
<text class="a" x="1798" y="763">80.0000</text>
<text class="a" x="1798" y="803">60.0000</text>
<text class="a" x="1798" y="842">40.0000</text>
<text class="a" x="50.8" y="883" text-anchor="middle">Apr</text>
<text class="a" x="164.8" y="883" text-anchor="middle">May</text>
<text class="a" x="290.8" y="883" text-anchor="middle">Jun</text>
<text class="a" x="410.8" y="883" text-anchor="middle">Jul</text>
<text class="a" x="536.8" y="883" text-anchor="middle">Aug</text>
<text class="a" x="674.8" y="883" text-anchor="middle">Sep</text>
<text class="a" x="806.8" y="883" text-anchor="middle">Oct</text>
<text class="a" x="932.8" y="883" text-anchor="middle">Nov</text>
<text class="a" x="1064.8" y="883" text-anchor="middle">Dec</text>
<text class="a" x="1190.8" y="883" text-anchor="middle" font-weight="bold">2023</text>
<text class="a" x="1316.8" y="883" text-anchor="middle">Feb</text>
<text class="a" x="1436.8" y="883" text-anchor="middle">Mar</text>
<text class="a" x="1574.8" y="883" text-anchor="middle">Apr</text>
<text class="a" x="1694.8" y="883" text-anchor="middle">May</text>
<text class="a" x="1772.8" y="883" text-anchor="middle">18</text>
<rect x="1791" y="58" width="51" height="14" fill="#0000ff" shape-rendering="crispEdges"/>
<rect x="1791" y="63" width="3" height="1" fill="#fff" shape-rendering="crispEdges"/>
<text class="b" x="1798" y="68">2288.88</text>
<rect x="1791" y="154" width="51" height="16" fill="#4a72e6" shape-rendering="crispEdges"/>
<rect x="1791" y="161" width="3" height="1" fill="#fff" shape-rendering="crispEdges"/>
<text class="b" x="1798" y="166">2194.94</text>
<rect x="1791" y="187" width="51" height="16" fill="#ff0000" shape-rendering="crispEdges"/>
<rect x="1791" y="194" width="3" height="1" fill="#fff" shape-rendering="crispEdges"/>
<text class="b" x="1798" y="199">2164.07</text>
<rect x="1791" y="317" width="51" height="16" fill="#0000ff" shape-rendering="crispEdges"/>
<rect x="1791" y="324" width="3" height="1" fill="#fff" shape-rendering="crispEdges"/>
<text class="b" x="1798" y="329">2039.27</text>
<rect x="1791" y="623" width="51" height="16" fill="#ff0000" shape-rendering="crispEdges"/>
<rect x="1791" y="630" width="3" height="1" fill="#fff" shape-rendering="crispEdges"/>
<text class="b" x="1798" y="635">36.5470</text>
<rect x="1791" y="639" width="51" height="16" fill="#0000ff" shape-rendering="crispEdges"/>
<rect x="1791" y="646" width="3" height="1" fill="#fff" shape-rendering="crispEdges"/>
<text class="b" x="1798" y="651">33.0305</text>
<rect x="1791" y="681" width="49" height="16" fill="#ff0000" shape-rendering="crispEdges"/>
<rect x="1791" y="688" width="3" height="1" fill="#fff" shape-rendering="crispEdges"/>
<text class="b" x="1798" y="693">-3.5165</text>
<rect x="1791" y="796" width="51" height="16" fill="#800080" shape-rendering="crispEdges"/>
<rect x="1791" y="803" width="3" height="1" fill="#fff" shape-rendering="crispEdges"/>
<text class="b" x="1798" y="808">57.0442</text>
<rect x="0" y="890" width="1853" height="2" fill="#000"/>
</svg></body></html>
